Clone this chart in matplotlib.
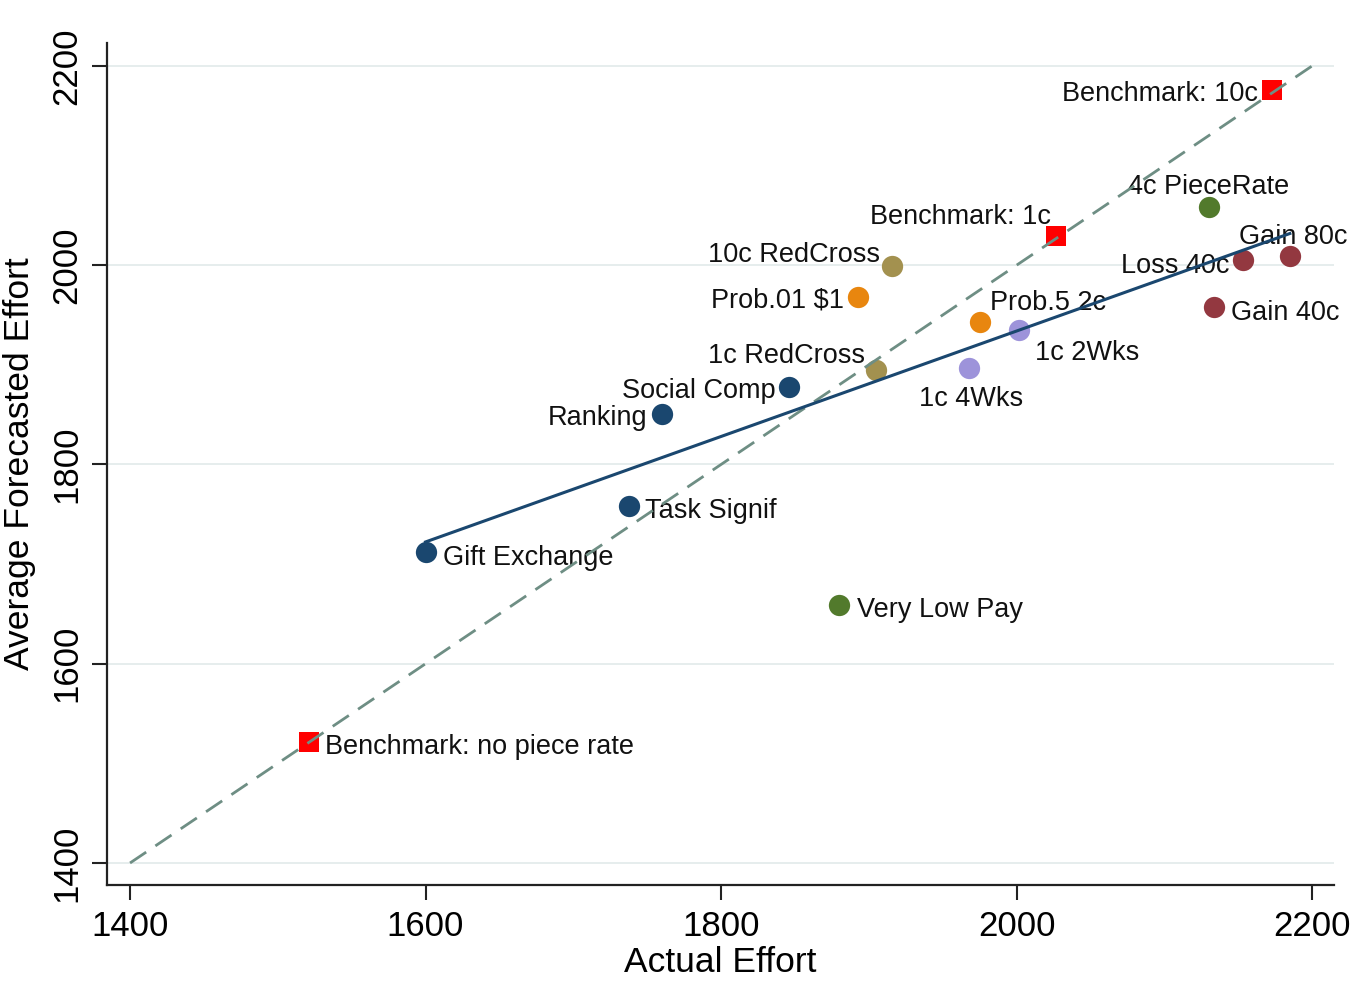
import numpy as np
import matplotlib
matplotlib.use("Agg")
import matplotlib.pyplot as plt

plt.rcParams['font.family'] = ['Liberation Sans', 'DejaVu Sans']

# Treatment means: actual effort vs. average forecasted effort
treatments = ["Gift Exchange", "Task Signif", "Ranking", "Social Comp",
              "1c RedCross", "10c RedCross", "Prob.01 $1", "Prob.5 2c",
              "1c 2Wks", "1c 4Wks", "Very Low Pay", "4c PieceRate",
              "Loss 40c", "Gain 80c", "Gain 40c"]
actual = [1600, 1738, 1760, 1846, 1905, 1916, 1893, 1975,
          2002, 1968, 1880, 2130, 2153, 2185, 2134]
forecast = [1712, 1758, 1851, 1878, 1895, 1999, 1968, 1943,
            1935, 1897, 1659, 2058, 2005, 2009, 1958]
groups = ["social", "social", "social", "social",
          "charity", "charity", "prob", "prob",
          "time", "time", "pay", "pay",
          "gainloss", "gainloss", "gainloss"]

benchmarks = ["Benchmark: no piece rate", "Benchmark: 1c", "Benchmark: 10c"]
bench_actual = [1521, 2027, 2173]
bench_forecast = [1521, 2029, 2176]

group_colors = {"social": "#1a476f", "charity": "#a3914f", "prob": "#e8860f",
                "time": "#9d93da", "pay": "#527a2c", "gainloss": "#933840"}

# label placement: (dx, dy) in pixels, horizontal alignment
label_pos = {
    "Gift Exchange": (17, -6, "left"), "Task Signif": (16, -5, "left"),
    "Ranking": (-15, -4, "right"), "Social Comp": (-13, -4, "right"),
    "1c RedCross": (-11, 14, "right"), "10c RedCross": (-12, 11, "right"),
    "Prob.01 $1": (-14, -3, "right"), "Prob.5 2c": (10, 19, "left"),
    "1c 2Wks": (16, -23, "left"), "1c 4Wks": (2, -31, "center"),
    "Very Low Pay": (18, -5, "left"), "4c PieceRate": (0, 20, "center"),
    "Loss 40c": (-13, -6, "right"), "Gain 80c": (3, 19, "center"),
    "Gain 40c": (17, -6, "left"),
}
bench_pos = {
    "Benchmark: no piece rate": (16, -5, "left"),
    "Benchmark: 1c": (-6, 19, "right"),
    "Benchmark: 10c": (-14, -4, "right"),
}

fig = plt.figure(figsize=(13.64, 9.82), dpi=100)
ax = fig.add_axes([107 / 1364, 1 - 885 / 982, (1334 - 107) / 1364, (885 - 43) / 982])

ax.set_xlim(1384.4, 2214.9)
ax.set_ylim(1377.9, 2223.1)

ticks = [1400, 1600, 1800, 2000, 2200]
ax.set_xticks(ticks)
ax.set_yticks(ticks)
ax.set_xticklabels([str(t) for t in ticks], fontsize=25)
ax.set_yticklabels([str(t) for t in ticks], fontsize=25, rotation=90, va="center")
ax.tick_params(axis="both", direction="out", length=11, width=1.5, color="#222222", pad=7)
ax.tick_params(axis="y", pad=6)

for side in ["top", "right"]:
    ax.spines[side].set_visible(False)
for side in ["left", "bottom"]:
    ax.spines[side].set_linewidth(1.6)
    ax.spines[side].set_color("#222222")

ax.grid(axis="y", color="#e4ecec", linewidth=1.3, zorder=0)
ax.set_axisbelow(True)

# treatment markers
for name, x, y, g in zip(treatments, actual, forecast, groups):
    ax.scatter([x], [y], s=235, color=group_colors[g], zorder=3, linewidths=0)
    dx, dy, ha = label_pos[name]
    ax.annotate(name, (x, y), xytext=(dx, dy), textcoords="offset pixels",
                ha=ha, va="center", fontsize=19.5, color="#111111", zorder=2)

# benchmark markers
ax.scatter(bench_actual, bench_forecast, s=220, marker="s", color="#ff0000",
           zorder=3, linewidths=0)
for name, x, y in zip(benchmarks, bench_actual, bench_forecast):
    dx, dy, ha = bench_pos[name]
    ax.annotate(name, (x, y), xytext=(dx, dy), textcoords="offset pixels",
                ha=ha, va="center", fontsize=19.5, color="#111111", zorder=2)

# 45-degree line
diag = np.array([1400, 2200])
ax.plot(diag, diag, linestyle=(0, (7, 4)), color="#6e8e84", linewidth=2.0, zorder=4)

# OLS fit across treatments
slope, intercept = np.polyfit(actual, forecast, 1)
xf = np.array([min(actual), max(actual)])
ax.plot(xf, intercept + slope * xf, color="#1a476f", linewidth=2.2, zorder=4)

ax.set_xlabel("Actual Effort", fontsize=25.5, labelpad=2)
ax.set_ylabel("Average Forecasted Effort", fontsize=25.5, labelpad=10)

fig.savefig("out.png", dpi=100, facecolor="white")
